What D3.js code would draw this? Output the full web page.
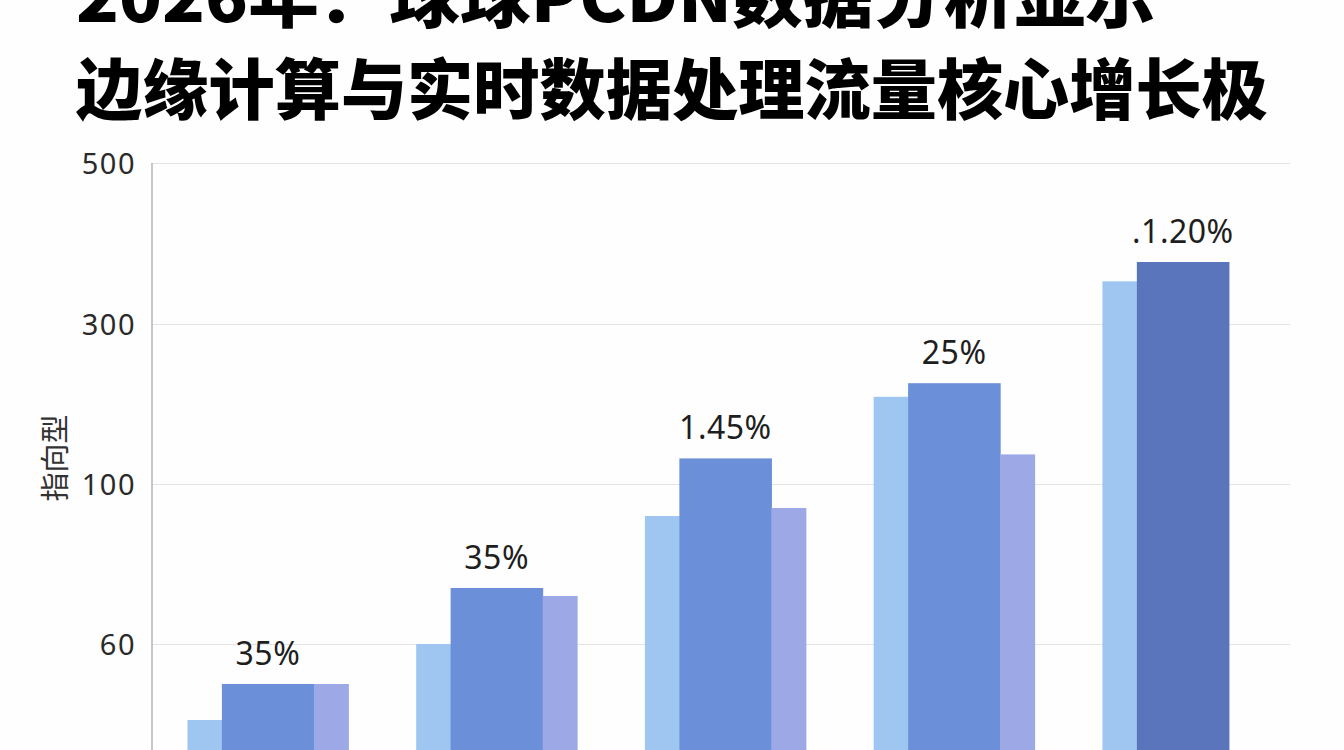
<!DOCTYPE html>
<html>
<head>
<meta charset="utf-8">
<script src="https://cdn.jsdelivr.net/npm/d3@7"></script>
<style>
  html, body { margin: 0; padding: 0; background: #fff; overflow: hidden; }
  svg { display: block; }
</style>
</head>
<body>
<script>
// groups along x (no labels visible in the picture)
var categories = ["g1", "g2", "g3", "g4", "g5"];
var seriesLight = [41, 60, 92, 209, 353];
var seriesMain = [50, 74, 132, 226, 377];
var seriesSide = [50, 72, 94, 137, null];
var barLabels = ["35%", "35%", "1.45%", "25%", ".1.20%"];
var yTicks = [60, 100, 300, 500];
var titleLines = ["2026年：球球PCDN数据分析显示", "边缘计算与实时数据处理流量核心增长极"];
var yTitle = "指向型";

var width = 1344, height = 750;

var svg = d3.select("body").append("svg")
  .attr("width", width)
  .attr("height", height);

svg.append("rect").attr("width", width).attr("height", height).attr("fill", "#fefefe");

// the axis is evenly spaced between ticks, not linear
var y = d3.scaleLinear()
  .domain([20, 60, 100, 300, 500])
  .range([804, 644, 484, 324, 163]);

var x = d3.scaleBand()
  .domain(categories)
  .range([160, 1290])
  .paddingInner(0.3)
  .paddingOuter(0.12);

// grid + tick labels
var yAxis = d3.axisLeft(y)
  .tickValues(yTicks)
  .tickSize(-(1290 - 152))
  .tickPadding(16)
  .tickFormat(d3.format("d"));

var gAxis = svg.append("g")
  .attr("transform", "translate(152,0)")
  .call(yAxis);

gAxis.select(".domain").remove();
gAxis.selectAll(".tick line").attr("stroke", "#e4e4e4").attr("stroke-width", 1.2);
gAxis.selectAll(".tick text")
  .attr("fill", "#2a2a2a")
  .style("font-family", "'Noto Sans', 'Open Sans', sans-serif")
  .style("font-size", "29px")
  .style("letter-spacing", "1.5px")
  .attr("dy", "0.36em");

svg.append("line")
  .attr("x1", 152).attr("x2", 152)
  .attr("y1", 163).attr("y2", height)
  .attr("stroke", "#b4b4b4")
  .attr("stroke-width", 1.5);

svg.append("text")
  .attr("transform", "translate(66,458) rotate(-90)")
  .attr("text-anchor", "middle")
  .attr("fill", "#333")
  .style("font-family", "'Noto Sans CJK SC', sans-serif")
  .style("font-size", "29px")
  .text(yTitle);

// bars: light | main (wide) | side, as fractions of the band
var sub = [
  {key: "light", off: 0, w: 0.215, values: seriesLight, color: "#9fc6f1"},
  {key: "main", off: 0.215, w: 0.575, values: seriesMain, color: "#6b8fd9"},
  {key: "side", off: 0.79, w: 0.215, values: seriesSide, color: "#9da9e6"}
];

sub.forEach(function(s) {
  svg.append("g").selectAll("rect")
    .data(categories.map(function(c, i) { return {c: c, i: i, v: s.values[i]}; })
      .filter(function(d) { return d.v != null; }))
    .enter()
    .append("rect")
    .attr("x", function(d) { return x(d.c) + s.off * x.bandwidth(); })
    .attr("width", s.w * x.bandwidth() + 0.5)
    .attr("y", function(d) { return y(d.v); })
    .attr("height", function(d) { return height - y(d.v); })
    .attr("fill", function(d) {
      if (s.key == "main" && d.i == categories.length - 1) {
        return "#5a75bb"
      }
      return s.color
    });
});

svg.append("g").selectAll("text")
  .data(categories)
  .enter()
  .append("text")
  .attr("x", function(c) { return x(c) + (0.215 + 0.575 / 2) * x.bandwidth(); })
  .attr("y", function(c, i) { return y(seriesMain[i]) - 19; })
  .attr("text-anchor", "middle")
  .attr("fill", "#1e1e1e")
  .style("font-family", "'Noto Sans', 'Open Sans', sans-serif")
  .style("font-size", "32px")
  .style("letter-spacing", "0.5px")
  .text(function(c, i) { return barLabels[i]; });

// title, top line cut by the frame as in the reference
var titleWidths = [1080, 1192];
svg.append("g").selectAll("text")
  .data(titleLines)
  .enter()
  .append("text")
  .attr("x", 76)
  .attr("y", function(d, i) { return 22 + i * 92; })
  .attr("textLength", function(d, i) { return titleWidths[i]; })
  .attr("lengthAdjust", "spacingAndGlyphs")
  .attr("fill", "#000")
  .style("font-family", "'Noto Sans CJK SC', sans-serif")
  .style("font-weight", 900)
  .style("font-size", "66px")
  .text(function(d) { return d; });
</script>
</body>
</html>
